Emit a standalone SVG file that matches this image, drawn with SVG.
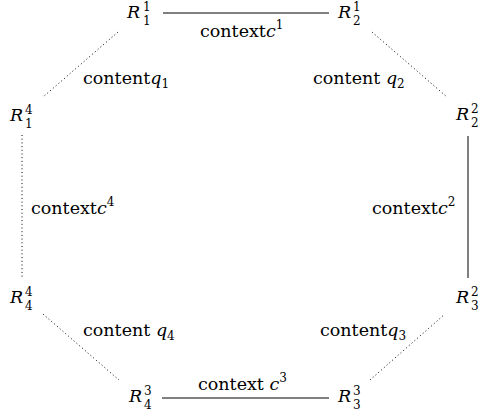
<svg xmlns="http://www.w3.org/2000/svg" width="486" height="414" viewBox="0 0 486 414">
<style>
text{font-family:"DejaVu Serif","Liberation Serif",serif;fill:#000}
.R{font-size:17.5px;font-style:italic}
.s{font-size:12px}
.lab{font-size:17.5px}
.i{font-style:italic}
.solid{stroke:#000;stroke-width:1;fill:none}
.dot{stroke:#000;stroke-width:1;fill:none;stroke-dasharray:1 2.7}
</style>
<rect width="486" height="414" fill="#fff"/>
<g id="connectors">
<path class="solid" d="M163,13 H329"/>
<path class="solid" d="M162,398 H329"/>
<path class="solid" d="M468,136 V278"/>
<path class="dot" d="M22,135 V278"/>
<path class="dot" d="M118,32 L43,97"/>
<path class="dot" d="M372,32 L447,97"/>
<path class="dot" d="M43,314 L119,380"/>
<path class="dot" d="M370,380 L445,314"/>
</g>
<g id="labels">
<text class="lab" x="200" y="37">context<tspan class="i">c</tspan><tspan class="s" dy="-8">1</tspan></text>
<text class="lab" x="83" y="84">content<tspan class="i">q</tspan><tspan class="s" dy="4">1</tspan></text>
<text class="lab" x="313" y="84">content <tspan class="i">q</tspan><tspan class="s" dy="4">2</tspan></text>
<text class="lab" x="31" y="214">context<tspan class="i">c</tspan><tspan class="s" dy="-8">4</tspan></text>
<text class="lab" x="372" y="214">context<tspan class="i">c</tspan><tspan class="s" dy="-8">2</tspan></text>
<text class="lab" x="83" y="336">content <tspan class="i">q</tspan><tspan class="s" dy="4">4</tspan></text>
<text class="lab" x="320" y="336">content<tspan class="i">q</tspan><tspan class="s" dy="4">3</tspan></text>
<text class="lab" x="198" y="390">context <tspan class="i">c</tspan><tspan class="s" dy="-8">3</tspan></text>
</g>
<g id="R11"><text class="R" x="127" y="18">R</text><text class="s" x="143" y="10.5">1</text><text class="s" x="143" y="25">1</text></g>
<g id="R21"><text class="R" x="338" y="18">R</text><text class="s" x="353" y="10.5">1</text><text class="s" x="353" y="25">2</text></g>
<g id="R14"><text class="R" x="10" y="121">R</text><text class="s" x="25" y="113.5">4</text><text class="s" x="25" y="128">1</text></g>
<g id="R22"><text class="R" x="456" y="120">R</text><text class="s" x="471" y="112.5">2</text><text class="s" x="471" y="127">2</text></g>
<g id="R44"><text class="R" x="10" y="303">R</text><text class="s" x="25" y="295.5">4</text><text class="s" x="25" y="310">4</text></g>
<g id="R32"><text class="R" x="456" y="303">R</text><text class="s" x="471" y="295.5">2</text><text class="s" x="471" y="310">3</text></g>
<g id="R43"><text class="R" x="129" y="402">R</text><text class="s" x="144" y="394.5">3</text><text class="s" x="144" y="409">4</text></g>
<g id="R33"><text class="R" x="338" y="402">R</text><text class="s" x="353" y="394.5">3</text><text class="s" x="353" y="409">3</text></g>
</svg>
